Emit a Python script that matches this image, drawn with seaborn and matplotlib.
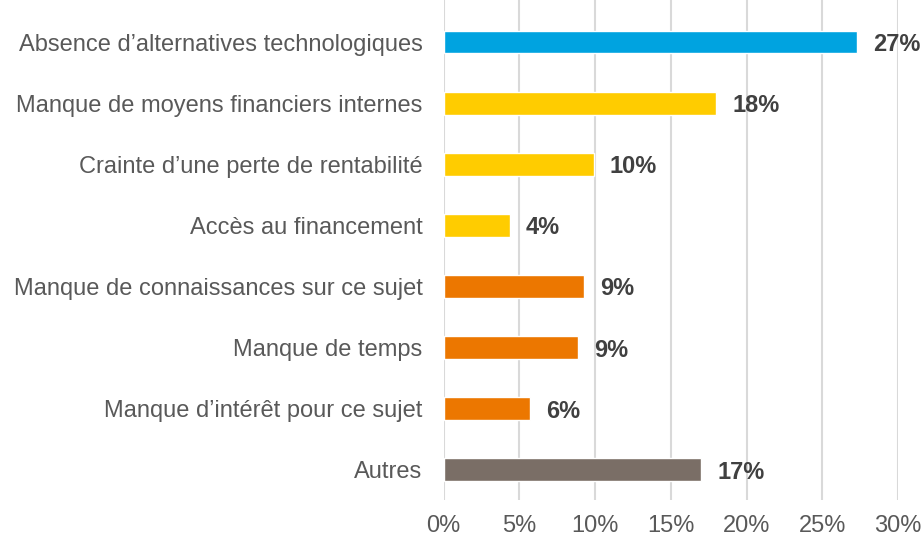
import pandas as pd
import seaborn as sns
import matplotlib.pyplot as plt
from matplotlib.ticker import PercentFormatter

# Data
categories = [
    "Absence d\u2019alternatives technologiques",
    "Manque de moyens financiers internes",
    "Crainte d\u2019une perte de rentabilit\u00e9",
    "Acc\u00e8s au financement",
    "Manque de connaissances sur ce sujet",
    "Manque de temps",
    "Manque d\u2019int\u00e9r\u00eat pour ce sujet",
    "Autres",
]
values = [27.3, 18.0, 9.9, 4.4, 9.3, 8.9, 5.7, 17.0]
labels = ["27%", "18%", "10%", "4%", "9%", "9%", "6%", "17%"]
colors = ["#00A3E0", "#FFCC00", "#FFCC00", "#FFCC00",
          "#EC7700", "#EC7700", "#EC7700", "#7A6E66"]

df = pd.DataFrame({"categorie": categories, "valeur": values})

sns.set_style("white")
plt.rcParams["font.family"] = ["Liberation Sans", "DejaVu Sans"]

fig = plt.figure(figsize=(9.24, 5.39), dpi=100)
ax = fig.add_axes([0.48, 0.072, 0.4921, 0.928])

sns.barplot(data=df, x="valeur", y="categorie", hue="categorie",
            palette=colors, legend=False, width=0.37, ax=ax,
            saturation=1)

# value labels
for i, (v, lab) in enumerate(zip(values, labels)):
    ax.text(v + 1.05, i, lab, va="center_baseline", ha="left", fontsize=17,
            fontweight="bold", color="#404040")

ax.set_xlim(0, 30)
ax.set_ylim(7.5, -0.69)
ax.xaxis.set_major_formatter(PercentFormatter(decimals=0))
ax.set_xticks(range(0, 31, 5))
ax.grid(axis="x", color="#D9D9D9", linewidth=1.5)
ax.set_axisbelow(True)
for s in ax.spines.values():
    s.set_visible(False)
ax.set_xlabel("")
ax.set_ylabel("")
ax.tick_params(axis="y", length=0, pad=15, labelsize=17, labelcolor="#595959")
ax.tick_params(axis="x", length=0, pad=11, labelsize=17, labelcolor="#595959")

fig.savefig("out.png", dpi=100)
